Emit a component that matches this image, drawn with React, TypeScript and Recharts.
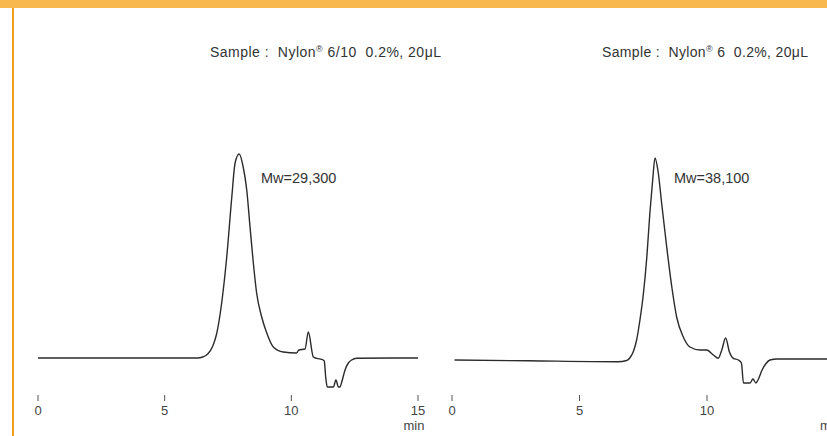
import { LineChart, Line, XAxis, YAxis } from "recharts";

// retention time (min) and detector signal for each sample
const xTicks = [0, 5, 10, 15];

const timeA = [0, 6.3, 6.5, 6.7, 6.9, 7.05, 7.25, 7.45, 7.65, 7.78, 7.94, 8.1, 8.24, 8.37, 8.5, 8.63, 8.83, 9.03, 9.29, 9.68, 10.2, 10.3, 10.54, 10.67, 10.87, 11.0, 11.26, 11.3, 11.36, 11.42, 11.66, 11.76, 11.86, 11.92, 11.99, 12.12, 12.25, 12.38, 12.58, 15];
const signalA = [0, 0, 1, 4, 12, 24, 55, 101, 161, 195, 204, 191, 168, 131, 95, 65, 41, 25, 11, 6, 5, 8, 9, 26, 1, -0.3, -2, -3, -20, -29, -29, -22, -29, -29, -24, -12, -5, -2, -0.3, 0];

const timeB = [0.1, 3, 6.5, 6.85, 7.0, 7.12, 7.24, 7.37, 7.5, 7.64, 7.76, 7.87, 7.96, 8.09, 8.22, 8.42, 8.62, 8.81, 9.07, 9.33, 9.73, 9.99, 10.25, 10.44, 10.58, 10.73, 10.88, 11.03, 11.23, 11.35, 11.43, 11.69, 11.8, 11.92, 12.0, 12.16, 12.3, 12.47, 12.75, 15];
const signalB = [0, -0.8, -1.7, -0.5, 3, 9, 20, 40, 65, 103, 147, 180, 202, 187, 157, 113, 73, 43, 23, 13, 10, 10, 5, 1.7, 10, 22, 8, 1.7, 0, -3, -23, -23, -19, -23, -20, -10, -4, 0, 1, 1];

const sampleNames = ["6/10", "6"];
const mwLabels = ["Mw=29,300", "Mw=38,100"];

const FONT = '"Liberation Sans", Arial, Helvetica, sans-serif';
const NB = "\u00A0";

function zip(t: number[], s: number[]) {
  return t.map((v, i) => ({ t: v, s: s[i] }));
}

function Tick(props: any) {
  const { x, y, payload } = props;
  return (
    <g>
      <line x1={x} x2={x} y1={y + 1} y2={y + 7} stroke="#555" strokeWidth={1} />
      <text x={x} y={y + 21} textAnchor="middle" fontSize={13} fill="#444" fontFamily={FONT}>
        {payload.value}
      </text>
      {payload.value === 15 && (
        <text x={x - 4} y={y + 36} textAnchor="middle" fontSize={13} fill="#444" fontFamily={FONT}>
          min
        </text>
      )}
    </g>
  );
}

function Chromatogram({ data, domain, left, width }: { data: any[]; domain: number[]; left: number; width: number }) {
  return (
    <div style={{ position: "absolute", left, top: 114 }}>
      <LineChart width={width} height={330} data={data} margin={{ top: 0, right: 20, bottom: 0, left: 20 }}>
        <XAxis
          dataKey="t"
          type="number"
          domain={[0, 15]}
          ticks={xTicks}
          interval={0}
          axisLine={false}
          tickLine={false}
          tickSize={0}
          tickMargin={0}
          height={50}
          tick={<Tick />}
        />
        <YAxis hide domain={domain} allowDataOverflow />
        <Line type="monotone" dataKey="s" stroke="#2b2b2b" strokeWidth={1.4} dot={false} isAnimationActive={false} />
      </LineChart>
    </div>
  );
}

export default function App() {
  const titleX = [210, 602];
  const titleW = [231, 206];
  return (
    <div style={{ position: "absolute", left: 0, top: 0, width: 827, height: 436, overflow: "hidden", background: "#fff" }}>
      <div style={{ position: "absolute", left: 0, top: 0, width: 827, height: 8, background: "#F8B84E" }} />
      <div style={{ position: "absolute", left: 12, top: 8, width: 2, height: 428, background: "#F39C1E" }} />
      <Chromatogram data={zip(timeA, signalA)} domain={[-36, 244]} left={18} width={420} />
      <Chromatogram data={zip(timeB, signalB)} domain={[-34, 246]} left={432} width={422.5} />
      <svg width={827} height={436} style={{ position: "absolute", left: 0, top: 0, pointerEvents: "none" }}>
        <g fontFamily={FONT} fill="#333" fontSize={14}>
          {titleX.map((x, i) => (
            <text key={i} x={x} y={57} textLength={titleW[i]} lengthAdjust="spacing">
              {"Sample :" + NB + NB + "Nylon"}
              <tspan fontSize={9} dy={-5}>®</tspan>
              <tspan dy={5}>{NB + sampleNames[i] + NB + NB + "0.2%, 20μL"}</tspan>
            </text>
          ))}
          {[261, 674].map((x, i) => (
            <text key={i} x={x} y={183} fontSize={14.5}>
              {mwLabels[i]}
            </text>
          ))}
        </g>
      </svg>
    </div>
  );
}
